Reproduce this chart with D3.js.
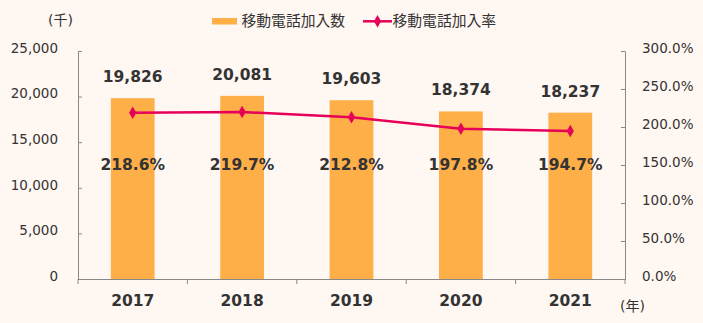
<!DOCTYPE html>
<html><head><meta charset="utf-8">
<script src="https://cdn.jsdelivr.net/npm/d3@7"></script>
<style>
html,body{margin:0;padding:0;background:#FFF7F2;}
svg{display:block;font-family:"DejaVu Sans","Noto Sans CJK JP",sans-serif;}
</style></head><body>
<svg id="c" width="703" height="323"></svg>
<script>
const years = ["2017","2018","2019","2020","2021"];
const subscribers = [19826, 20081, 19603, 18374, 18237];
const rates = [218.6, 219.7, 212.8, 197.8, 194.7];
const leftTicks = [0, 5000, 10000, 15000, 20000, 25000];
const rightTicks = [0, 50, 100, 150, 200, 250, 300];
const seriesNames = ["移動電話加入数", "移動電話加入率"];

const barColor = "#FFAF48", lineColor = "#E6005A", txt = "#333333", axisC = "#888888";
const svg = d3.select("#c");
const m = {l: 78, r: 625, t: 51, b: 279};
const x = d3.scaleBand().domain(years).range([m.l, m.r]).paddingInner(0.6).paddingOuter(0.3);
const xb = d3.scaleBand().domain(years).range([m.l, m.r]);
const yL = d3.scaleLinear().domain([0, 25000]).range([m.b, m.t]);
const yR = d3.scaleLinear().domain([0, 300]).range([m.b, m.t]);

// bars
svg.selectAll("rect.bar").data(subscribers).join("rect").attr("class","bar")
  .attr("x", (d,i)=>x(years[i])).attr("width", x.bandwidth())
  .attr("y", d=>yL(d)).attr("height", d=>m.b - yL(d)).attr("fill", barColor);

// axes
const gL = svg.append("g").attr("transform", `translate(${m.l},0)`)
  .call(d3.axisLeft(yL).tickValues(leftTicks).tickSizeInner(-4).tickSizeOuter(0).tickFormat(d3.format(",")));
gL.select(".domain").attr("stroke", axisC);
gL.selectAll(".tick line").attr("stroke", axisC);
gL.selectAll(".tick text").attr("x", -20).attr("dy", "0.1em").attr("fill", txt)
  .style("font-size","13.5px").style("font-family","DejaVu Sans");

const gR = svg.append("g").attr("transform", `translate(${m.r},0)`)
  .call(d3.axisRight(yR).tickValues(rightTicks).tickSizeInner(-4).tickSizeOuter(0).tickFormat(d=>d3.format(".1f")(d)+"%"));
gR.select(".domain").attr("stroke", axisC);
gR.selectAll(".tick line").attr("stroke", axisC);
gR.selectAll(".tick text").attr("x", 17).attr("dy", "0.1em").attr("fill", txt)
  .style("font-size","13.5px").style("font-family","DejaVu Sans");

const gB = svg.append("g").attr("transform", `translate(0,${m.b})`)
  .call(d3.axisBottom(xb).tickSize(0).tickSizeOuter(0));
gB.select(".domain").attr("stroke", axisC);
gB.selectAll(".tick text").attr("dy", "1.55em").attr("fill", txt)
  .style("font-size","15.5px").style("font-weight","bold").style("font-family","DejaVu Sans");
// category separators
const seps = years.map(y=>xb(y)).concat([m.r]);
svg.selectAll("line.sep").data(seps).join("line").attr("class","sep")
  .attr("x1", d=>d).attr("x2", d=>d).attr("y1", m.b).attr("y2", m.b+5).attr("stroke", axisC);

// line
const line = d3.line().x((d,i)=>xb(years[i]) + xb.bandwidth()/2).y(d=>yR(d));
svg.append("path").datum(rates).attr("d", line).attr("fill","none")
  .attr("stroke", lineColor).attr("stroke-width", 2.5);
const diamond = d3.symbol().type(d3.symbolDiamond).size(45);
svg.selectAll("path.mk").data(rates).join("path").attr("class","mk")
  .attr("d", diamond)
  .attr("transform",(d,i)=>`translate(${xb(years[i]) + xb.bandwidth()/2},${yR(d)})`)
  .attr("fill", lineColor);

// value labels
svg.selectAll("text.vl").data(subscribers).join("text").attr("class","vl")
  .attr("x",(d,i)=>xb(years[i]) + xb.bandwidth()/2).attr("y", d=>yL(d)-16)
  .attr("text-anchor","middle").attr("fill", txt)
  .style("font-size","15.5px").style("font-weight","bold").text(d=>d3.format(",")(d));
svg.selectAll("text.rl").data(rates).join("text").attr("class","rl")
  .attr("x",(d,i)=>xb(years[i]) + xb.bandwidth()/2).attr("y", yL(12000))
  .attr("text-anchor","middle").attr("fill", txt)
  .style("font-size","15.5px").style("font-weight","bold").text(d=>d.toFixed(1)+"%");

// units
svg.append("text").attr("x", 48).attr("y", 25).attr("fill", txt).style("font-size","14px").text("(千)");
svg.append("text").attr("x", 620).attr("y", 311).attr("fill", txt).style("font-size","14px").text("(年)");

// legend
const lg = svg.append("g");
lg.append("rect").attr("x", 212).attr("y", 18).attr("width", 25).attr("height", 6.5).attr("fill", barColor);
lg.append("text").attr("x", 241.5).attr("y", 26).attr("fill", txt)
  .style("font-size","14.8px").style("font-family","Noto Sans CJK JP").text(seriesNames[0]);
lg.append("line").attr("x1", 363).attr("x2", 392).attr("y1", 21.3).attr("y2", 21.3)
  .attr("stroke", lineColor).attr("stroke-width", 2.5);
lg.append("path").attr("d", diamond).attr("transform","translate(377.5,21.3)").attr("fill", lineColor);
lg.append("text").attr("x", 392.5).attr("y", 26).attr("fill", txt)
  .style("font-size","14.8px").style("font-family","Noto Sans CJK JP").text(seriesNames[1]);
</script>
</body></html>
